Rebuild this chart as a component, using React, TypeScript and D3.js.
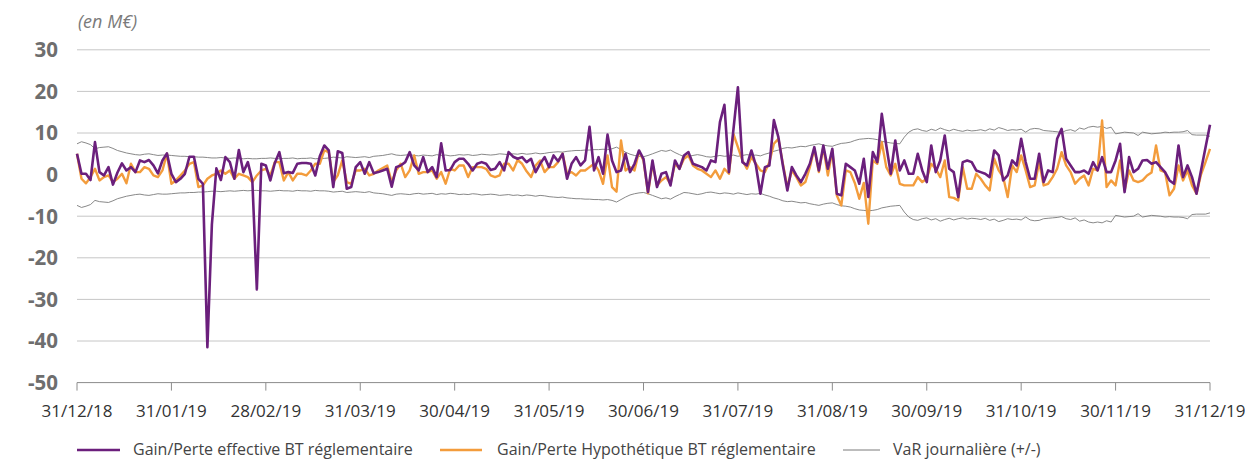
import React from 'react';
import * as d3 from 'd3';

// month-end ticks (21 trading days per step)
const dateLabels = ['31/12/18', '31/01/19', '28/02/19', '31/03/19', '30/04/19', '31/05/19', '30/06/19',
  '31/07/19', '31/08/19', '30/09/19', '31/10/19', '30/11/19', '31/12/19'];
const daysPerMonth = 21;

const yTicks = [30, 20, 10, 0, -10, -20, -30, -40, -50];

// Gain/Perte effective BT réglementaire (M€)
const effective = [
  5, 0.2, 0.2, -1.3, 7.8, 0.6, -0.2, 1.8, -2.4, 0.5,
  2.7, 1, 1.8, 0.6, 3.4, 3, 3.5, 2.2, 0.3, 3.4,
  5.1, 0.2, -1.8, -1, 0.2, 4.3, 4.3, -1, -2.2, -41.5,
  -12, 1.5, -1.3, 4.2, 3, -1, 5.9, 0.6, 3, -1.5,
  -27.6, 2.6, 2.2, -1.4, 2.8, 5.4, 0.3, 0.6, 0.4, 2.6,
  2.8, 2.8, 2.6, -0.2, 4.4, 7, 5.8, -3, 5.6, 5.2,
  -3.4, -3, 1.8, 3, 0.2, 3, 0.3, 0.6, 1, 1.4,
  -2.9, 1.8, 2.2, 3, 5.4, 2.2, 1, 4.2, 0.6, 1.8,
  -0.6, 7.5, 1, 1.1, 3, 3.8, 3.8, 2.6, 1, 2.6,
  3, 2.6, 1.1, 1.4, 3, 1, 5.4, 4.3, 3.8, 4.2,
  3, 3.8, 0.6, 2.6, 4.2, 1.8, 4.6, 3.2, 5, -1,
  2.6, 4.2, 2.2, 3.4, 11.5, 1, 4.2, 0.2, 9.6, 3.4,
  0.6, 1, 5, 0.6, 2.6, 5.8, 3.8, -4.2, 3.4, -3,
  0.2, 0.6, -2.6, 3.4, 1.4, 4.6, 5.4, 2.6, 2.2, 1.8,
  1, 3.4, 3, 12.6, 16.8, 0.6, 10.8, 21, 3, 2.2,
  5.8, 2.2, -4.6, 1.8, 2.2, 13.1, 9, 2.2, -3.8, 1.8,
  -0.2, -1.8, 0.2, 2.6, 6.6, 1, 7, 1.4, 6.2, -4.6,
  -5, 2.6, 1.8, 1, -2.2, 3.8, -5.4, 5.4, 3, 14.6,
  7, 0.2, 8.2, 1, 3.4, 0.2, 0.2, 5, 1, -1.8,
  7, 0.6, 3.4, 9.4, 1.4, 0.6, -5.4, 3, 3.4, 3,
  1, 0.6, 0.2, -0.6, 5.8, 4.6, -1.4, -0.2, 3.4, 2.2,
  8.6, 3, -1, -1, 5, -1.8, 1, 0.6, 8.6, 11,
  3.8, 2.2, 0.6, 0.6, 1, 0.2, 3, 1, 4.2, 0.6,
  0.6, 3.4, 7.4, -4.2, 4.2, 0.6, 1.4, 3.4, 3.5, 2.6,
  3, 1.8, 0.6, -1.4, -2.2, 7, -0.6, 2.2, -0.6, -4.6,
  1, 6.5, 12,
];

// Gain/Perte Hypothétique BT réglementaire (M€)
const hypothetique = [
  5, -1, -2.1, -0.6, 1.4, -1.4, -0.6, -0.2, -1.8, -1,
  0.2, -2.1, 2.6, 0.6, 0.6, 1.8, 1.4, -0.2, -0.6, 1,
  5, -2.2, -1.4, -0.2, 1, 2.6, 3, -3, -2.6, -1,
  -0.2, 0.2, 1, 0.2, 1, -1, 0.2, -0.2, -0.6, -1.8,
  -0.2, 1, 1.4, -0.2, 3, 3, -1.4, 0.6, -1.4, 0.2,
  0.2, -0.2, 1, 2.6, 2.6, 5.8, 5.4, -1.8, -0.2, 3.4,
  -1.8, -2.2, 1, 1, 1.4, -0.2, 0.2, 1, 1.6, 2.2,
  -1.8, 1, 2.6, -0.6, 1, 4.6, 0.2, 0.6, 0.6, 1,
  -1, 0.6, -2.2, 1.4, 1, 2.2, 2.2, -0.6, 1.8, 1.8,
  1.8, 1.4, -0.2, -0.6, -0.2, 2.6, 2.6, 1, 3.5, 2.6,
  0.8, -0.6, 2.2, 3.4, 0.6, 1.8, 1.8, 3, 5, 0.2,
  0.6, -0.2, 1, 1, 1.8, 2.6, 1, -2.2, 4.6, -3,
  -4.1, 8.2, 1, 1.8, 1, 5.6, 3.4, -4.5, 2.6, -2.6,
  -1.4, -0.6, -2.2, 2.6, 1.4, 3.8, 4.6, 2.2, 1.4, 1,
  0.2, -0.6, 1, -1, 1.4, 0.2, 9.8, 6.6, 3.4, 1.4,
  4.2, 2.6, 1, 0.6, 3, 7.4, 8.6, 2.6, -3, 1,
  -0.6, -2.6, -1.8, 1.8, 6.2, 0.6, 6.6, -0.2, 5.8, -5,
  -7.4, 1, 0.6, -2, -5.8, -2, -11.8, 3.4, 2.6, 7.8,
  1.8, -0.2, 2.6, -2.2, -2.6, -2.6, -2.6, -0.6, -1.8, -1,
  2.6, 1.4, -0.6, 3.4, -5.4, -5.6, -6.2, 1.8, -3.4, -3.4,
  0.2, -1, -2.6, -3.8, 3.8, 1, -0.6, -5.4, 2.2, 0.6,
  4.6, 1, -3, -2.6, 3, -2.6, -2.2, -0.6, 1.4, 5.4,
  2.2, 0.6, -2.2, -1, -0.2, -2.6, 1.4, 1, 13, -3,
  -1.4, -2.6, 3.4, -3.8, 1, -1.4, -1.8, -1.4, -0.2, 0.5,
  7, 1, 0.6, -5, -3.4, 2.2, -1.4, 1, -2.6, -4.6,
  0, 3, 6.2,
];

// VaR journalière (+/-) (M€)
const varJournaliere = [
  7.4, 7.9, 7.6, 7.2, 6.2, 6.5, 6.6, 6.7, 6.3, 5.8, 5.5, 5.2, 5.0, 4.8, 4.7, 4.9, 5.0, 4.8, 4.6, 4.7, 4.7,
  4.6, 4.5, 4.4, 4.4, 4.3, 4.3, 4.2, 4.2, 4.1, 4.0, 4.0, 4.1, 4.0, 3.9, 4.0, 3.9, 3.8, 3.9, 3.8, 3.8, 3.9,
  3.9, 4.0, 3.9, 3.8, 3.9, 3.9, 4.0, 3.8, 3.9, 3.9, 4.0, 3.8, 3.9, 3.9, 4.0, 4.2, 4.1, 4.0, 4.3, 4.2, 4.1,
  4.2, 4.3, 4.1, 4.4, 4.5, 4.6, 4.8, 5.0, 4.7, 4.6, 4.7, 4.8, 4.6, 4.5, 4.7, 4.6, 4.5, 4.8, 4.6, 4.7, 4.5,
  4.6, 4.8, 4.7, 4.8, 4.6, 4.7, 4.9, 4.8, 4.7, 4.8, 5.0, 4.9, 4.8, 5.0, 4.9, 5.1, 4.9, 5.0, 5.2, 5.0, 5.1,
  5.3, 5.4, 5.5, 5.4, 5.6, 5.7, 5.8, 5.8, 5.9, 5.9, 6.0, 6.0, 6.1, 6.0, 6.2, 6.6, 6.0, 5.4, 4.9, 4.6, 4.4,
  4.3, 4.6, 5.0, 5.4, 5.8, 5.6, 5.9, 5.3, 4.8, 4.3, 4.4, 4.6, 4.8, 4.6, 4.3, 4.2, 4.4, 4.6, 4.4, 4.5, 4.7,
  4.4, 4.6, 4.8, 4.6, 4.7, 4.5, 4.9, 5.2, 5.6, 5.9, 6.3, 6.5, 6.4, 6.6, 6.8, 6.7, 7.0, 7.2, 7.4, 7.1, 6.9,
  6.8, 7.2, 7.5, 7.6, 7.8, 8.2, 8.5, 8.6, 8.7, 8.6, 8.4, 8.0, 7.8, 7.6, 7.5, 7.4, 9.0, 10.2, 10.8, 11.0, 10.6,
  10.4, 10.9, 10.6, 11.2, 10.8, 10.5, 10.9, 10.6, 10.4, 10.7, 10.5, 10.6, 10.8, 10.5, 11.0, 10.7, 11.3, 11.0, 10.6, 10.8, 10.7,
  10.9, 10.2, 10.9, 11.1, 11.0, 10.6, 10.5, 10.4, 10.3, 10.1, 10.6, 10.8, 10.4, 11.2, 10.9, 11.4, 11.6, 11.4, 11.6, 11.1, 11.4,
  9.8, 10.0, 10.2, 10.1, 10.0, 9.4, 10.2, 10.0, 9.8, 9.9, 10.0, 10.2, 10.1, 10.2, 10.2, 10.3, 10.6, 9.6, 9.5, 9.5, 9.5, 9.2,
];

const PURPLE = '#6b1f7c';
const ORANGE = '#f39c3c';
const GREY = '#7a7a7a';
const FONT = "'Open Sans', sans-serif";

export default function App() {
  const width = 1245;
  const height = 461;
  const left = 77;
  const right = 1210;

  const lastIndex = (dateLabels.length - 1) * daysPerMonth;
  const x = d3.scaleLinear().domain([0, lastIndex]).range([left, right]);
  const y = d3.scaleLinear().domain([-50, 30]).range([382.6, 49.8]);

  const line = d3.line<number>()
    .x((_, i) => x(i))
    .y(d => y(d));

  const varNeg = varJournaliere.map(v => -v);

  const legendY = 450;
  const legend = [
    { label: 'Gain/Perte effective BT réglementaire', color: PURPLE, width: 2.5, x0: 77, x1: 120, tx: 133 },
    { label: 'Gain/Perte Hypothétique BT réglementaire', color: ORANGE, width: 2.5, x0: 440, x1: 482, tx: 497 },
    { label: 'VaR journalière (+/-)', color: GREY, width: 1, x0: 843, x1: 880, tx: 893 },
  ];

  return (
    <div style={{ position: 'absolute', left: 0, top: 0 }}>
      <svg width={width} height={height} style={{ display: 'block', background: '#fff' }}>
        <text x={78} y={28} fontFamily={FONT} fontStyle="italic" fontSize={18} fill="#7a7a7a">
          (en M€)
        </text>

        {/* grid + y labels */}
        {yTicks.map(t => (
          <g key={t}>
            {t !== 0 && t !== -50 && (
              <line x1={left} x2={right} y1={y(t)} y2={y(t)} stroke="#c6c6c6" strokeWidth={1} />
            )}
            <text
              x={58}
              y={y(t)}
              dy="0.36em"
              textAnchor="end"
              fontFamily={FONT}
              fontWeight={700}
              fontSize={20.5}
              fill="#6e6e6e"
            >
              {t}
            </text>
          </g>
        ))}

        {/* x axis */}
        <line x1={left} x2={right} y1={y(-50)} y2={y(-50)} stroke="#8c8c8c" strokeWidth={1} />
        {dateLabels.map((lab, i) => (
          <g key={lab} transform={`translate(${x(i * daysPerMonth)},0)`}>
            <line y1={y(-50)} y2={y(-50) + 8} stroke="#8c8c8c" strokeWidth={1} />
            <text
              y={417}
              textAnchor="middle"
              fontFamily={FONT}
              fontSize={17}
              fill="#333"
            >
              {lab}
            </text>
          </g>
        ))}

        {/* VaR band edges */}
        <path d={line(varJournaliere) || ''} fill="none" stroke={GREY} strokeWidth={0.9} />
        <path d={line(varNeg) || ''} fill="none" stroke={GREY} strokeWidth={0.9} />

        {/* P&L series */}
        <path d={line(hypothetique) || ''} fill="none" stroke={ORANGE} strokeWidth={2.4} strokeLinejoin="round" />
        <path d={line(effective) || ''} fill="none" stroke={PURPLE} strokeWidth={2.6} strokeLinejoin="round" />

        {/* legend */}
        {legend.map(l => (
          <g key={l.label}>
            <line x1={l.x0} x2={l.x1} y1={legendY} y2={legendY} stroke={l.color} strokeWidth={l.width} />
            <text x={l.tx} y={legendY} dy="0.33em" fontFamily={FONT} fontSize={16} fill="#444">
              {l.label}
            </text>
          </g>
        ))}
      </svg>
    </div>
  );
}
